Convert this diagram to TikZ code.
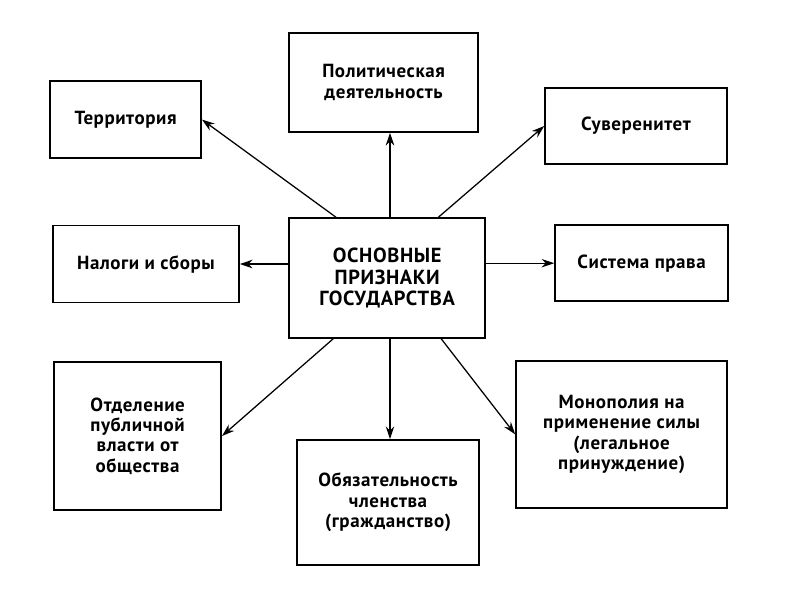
\documentclass[tikz,border=0pt]{standalone}
\usepackage{fontspec}
\setmainfont{PT Sans}[LetterSpace=3]
\usepackage{tikz}
\usetikzlibrary{arrows.meta, positioning, calc}

\begin{document}
\begin{tikzpicture}[
        font=\bfseries\fontsize{13.5}{14.4}\selectfont,
        box/.style = {rectangle, draw=black, line width=1.1pt, align=center, inner sep=2pt},
        arrow/.style = {line width=0.9pt, ->, >={Stealth[length=9pt, width=6pt]}}
    ]
    \useasboundingbox (0,0) rectangle (20,-15);

    % --- BLOCKS ---

    \node[box, minimum width=4.9cm, minimum height=3cm, font=\bfseries\fontsize{14.5}{15.5}\selectfont] (ctr) at (9.68,-6.95) {ОСНОВНЫЕ\\ПРИЗНАКИ\\ГОСУДАРСТВА};

    \node[box, minimum width=3.78cm, minimum height=1.93cm] (terr) at (3.14,-2.99) {Территория};
    \node[box, minimum width=4.73cm, minimum height=2.48cm] (polit) at (9.59,-2.06) {Политическая\\деятельность};
    \node[box, minimum width=4.55cm, minimum height=1.9cm] (suv) at (15.9,-3.15) {Суверенитет};

    \node[box, minimum width=4.65cm, minimum height=1.93cm] (nalog) at (3.65,-6.6) {Налоги и сборы};
    \node[box, minimum width=4.33cm, minimum height=1.9cm] (sist) at (16.04,-6.58) {Система права};

    \node[box, minimum width=4.18cm, minimum height=3.7cm] (otdel) at (3.44,-10.9) {Отделение\\публичной\\власти от\\общества};
    \node[box, minimum width=4.55cm, minimum height=3.13cm] (obyaz) at (9.7,-12.56) {Обязательность\\членства\\(гражданство)};
    \node[box, minimum width=5.28cm, minimum height=3.68cm] (monop) at (15.54,-10.86) {Монополия на\\применение силы\\(легальное\\принуждение)};

    % --- ARROWS ---

    % top row
    \draw[arrow] ([xshift=-1.28cm]ctr.north) -- (terr.east);
    \draw[arrow] ([xshift=0.07cm]ctr.north) -- ([xshift=0.07cm]ctr.north |- polit.south);
    \draw[arrow] ([xshift=1.28cm]ctr.north) -- (suv.west);

    % middle row
    \draw[arrow] (ctr.west |- nalog.east) -- (nalog.east);
    \draw[arrow] (ctr.east |- sist.west) -- (sist.west);

    % bottom row
    \draw[arrow] ([xshift=-1.35cm]ctr.south) -- (otdel.east);
    \draw[arrow] ([xshift=0.07cm]ctr.south) -- ([xshift=0.07cm]ctr.south |- obyaz.north);
    \draw[arrow] ([xshift=1.35cm]ctr.south) -- (monop.west);

\end{tikzpicture}
\end{document}
